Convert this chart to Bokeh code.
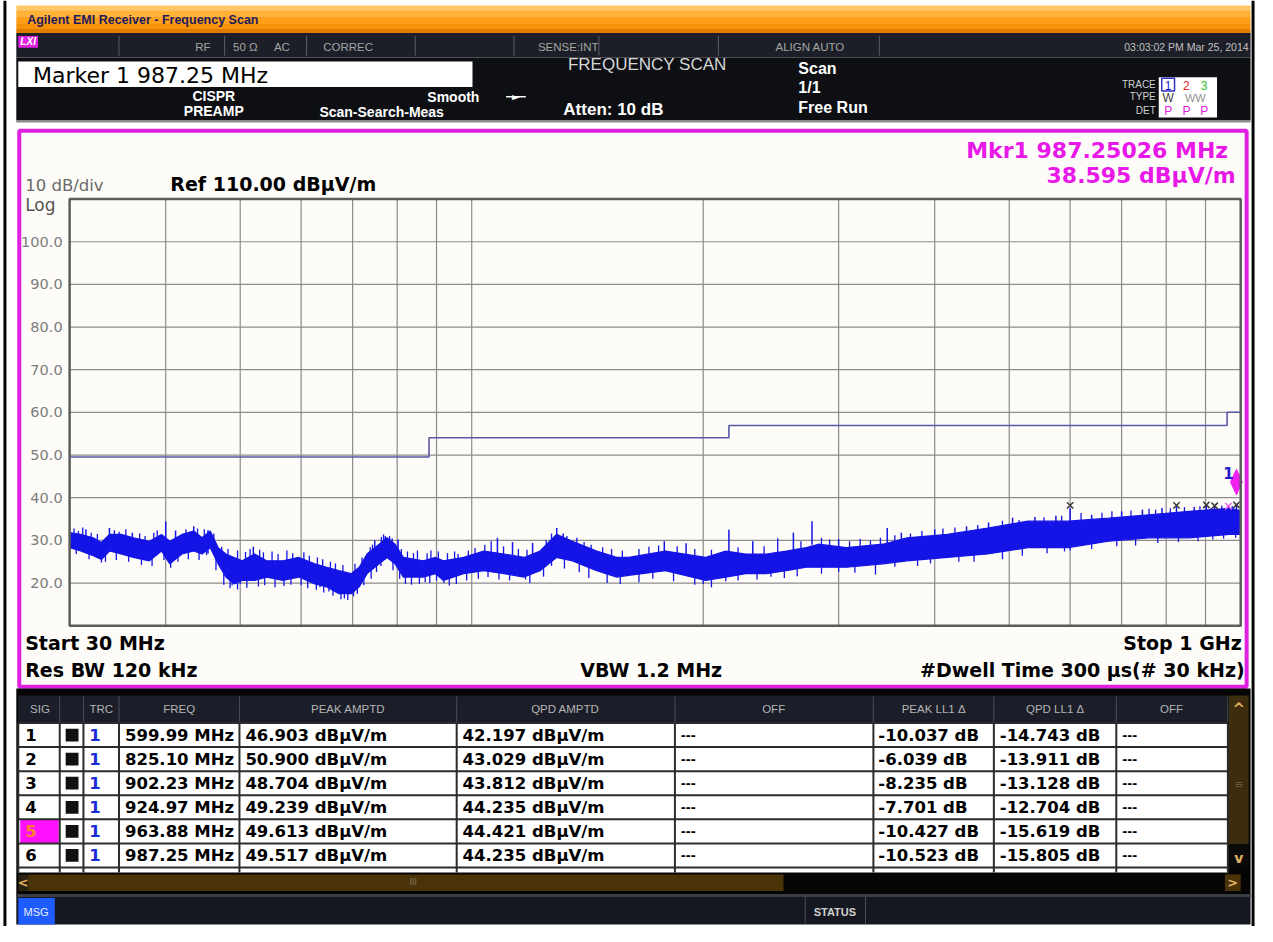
import math
from bokeh.plotting import figure
from bokeh.models import Range1d, LogScale, LinearScale
from bokeh.embed import file_html
from bokeh.resources import INLINE
from bokeh.core.properties import value

# ---------------- data ----------------
trace_freq_mhz = [30, 31, 32.2, 33, 33.8, 35, 36.3, 38.1, 39.5, 40.5, 42, 43.5, 44.6, 45.7, 46.8,
                  47.9, 49.1, 50.3, 52.2, 54.1, 56.8, 59.6, 62.5, 64.8, 67.2, 69.7, 71.4, 73.1, 75.8,
                  77.6, 79.5, 81.5, 86.5, 89.7, 91.9, 97.6, 103.7, 110.2, 117, 122.7, 128.9, 135.2,
                  145.4, 154.4, 160, 178.6, 201.5, 214, 227.2, 241.5, 256.5, 272.4, 282.4, 307.3,
                  342.5, 368.2, 415.4, 468.7, 528.9, 596.8, 673.3, 759.6, 857.1, 967, 1000]
trace_low_dbuv = [28.3, 27.5, 26.4, 25.5, 27.5, 26.8, 26.0, 25.2, 27.5, 24.5, 26.8, 27.5, 26.8, 28.3, 24.5,
                  21.4, 19.8, 20.6, 20.6, 21.4, 20.6, 21.4, 19.8, 19.1, 17.5, 17.5, 19.1, 22.2, 24.5,
                  26.0, 24.5, 21.4, 21.4, 22.2, 20.6, 22.2, 22.9, 22.2, 21.4, 22.9, 26.0, 25.2,
                  22.9, 21.4, 21.8, 22.9, 20.6, 21.4, 22.2, 22.2, 22.9, 23.7, 23.7, 23.7,
                  24.5, 25.2, 26.0, 26.8, 28.3, 28.3, 29.8, 30.6, 30.6, 31.4, 31.4]
trace_high_dbuv = [31.8, 31.4, 30.6, 29.5, 31.4, 31.4, 30.6, 29.8, 31.4, 29.8, 31.4, 32.2, 30.6, 32.2, 28.3,
                   26.8, 26.0, 25.2, 26.8, 25.2, 25.2, 26.0, 24.5, 23.7, 22.9, 22.2, 23.7, 26.8, 29.1,
                   30.6, 29.1, 26.0, 25.2, 26.0, 25.2, 26.0, 27.5, 26.8, 26.0, 27.5, 31.4, 29.8,
                   27.5, 26.0, 26.0, 27.5, 26.0, 27.5, 26.8, 26.8, 27.5, 28.3, 29.1, 28.3,
                   29.1, 30.6, 31.4, 32.9, 34.5, 34.5, 35.2, 36.0, 36.8, 37.5, 37.0]
# distinct narrow spikes on the trace (frequency, top)
spike_freq_mhz = [31.5, 33.8, 36.2, 40.0, 41.2, 43.5, 45.4, 52.0, 74.8, 77.2, 80.2, 108, 113, 120, 129,
                  131.5, 178, 190, 216, 232, 262, 277, 300, 347, 362, 400, 440, 470, 505, 540, 575,
                  600, 640, 700, 745, 790, 825, 870, 902, 925, 963.9, 987.3]
spike_top_dbuv = [32.6, 32.9, 31.8, 34.4, 32.3, 33.3, 32.4, 28.5, 30.0, 31.0, 30.2, 30.6, 29.6, 29.4, 32.9,
                  31.6, 29.8, 29.3, 32.5, 29.8, 31.8, 34.5, 30.3, 32.9, 31.8, 32.6, 33.3, 34.2, 35.3, 35.5,
                  35.8, 37.5, 36.0, 36.8, 37.2, 37.6, 38.0, 37.8, 38.2, 38.0, 38.3, 38.6]
# smaller noise excursions above the trace body
noise_up_freq_mhz = [30.4, 30.8, 31.2, 32.0, 32.6, 34.3, 34.8, 35.5, 37.0, 37.6, 38.6, 39.0, 42.5, 43.0, 44.0,
                     44.9, 46.2, 47.3, 48.2, 49.6, 50.8, 51.5, 53.0, 53.6, 55.0, 56.0, 57.5, 58.5, 60.5,
                     61.5, 63.0, 64.0, 65.5, 66.5, 68.0, 70.5, 72.0, 73.8, 74.3, 76.3, 76.8, 78.2, 78.8,
                     81.0, 82.5, 84.0, 85.0, 87.5, 88.5, 90.5, 93.0, 95.0, 96.0, 99.0, 101, 104, 106, 110,
                     115, 118, 125, 127, 133, 137, 140, 143, 148, 152, 157, 165, 170, 175, 185, 195, 205,
                     222, 240, 250, 268, 285, 292, 310, 320, 330, 340, 355, 372, 385, 410, 425, 455, 490,
                     515, 555, 585, 620, 660, 680, 720, 760, 775, 810, 845, 885, 915, 945, 975]
noise_up_top_dbuv = [32.8, 32.2, 33.0, 31.8, 31.5, 32.4, 32.0, 32.6, 31.6, 31.0, 31.8, 32.3, 32.6, 32.0, 32.8,
                     32.6, 31.6, 28.5, 28.0, 27.6, 27.3, 28.0, 27.8, 27.2, 27.4, 26.8, 27.6, 27.0, 27.2,
                     26.4, 26.0, 25.6, 25.0, 24.6, 24.2, 24.5, 26.0, 28.4, 29.0, 30.8, 31.4, 31.0, 30.5,
                     28.0, 27.4, 27.0, 27.6, 27.0, 27.6, 27.4, 27.0, 27.4, 26.8, 27.6, 28.2, 29.0, 29.8, 28.6,
                     28.0, 27.8, 30.0, 31.6, 31.0, 30.6, 29.6, 29.0, 28.4, 28.0, 27.6, 28.0, 28.5, 28.8, 28.6,
                     28.0, 27.8, 28.4, 28.6, 30.5, 29.8, 30.6, 30.2, 29.8, 30.4, 30.0, 30.6, 31.2, 31.6, 32.2,
                     32.8, 33.0, 33.6, 34.6, 34.8, 35.4, 35.8, 36.4, 36.5, 36.8, 37.0, 37.4, 37.2, 37.5, 37.8,
                     38.0, 37.6, 38.2, 38.0]
# noise excursions below the trace body
dip_freq_mhz = [30.6, 31.8, 33.0, 33.4, 34.5, 35.8, 37.2, 38.4, 39.8, 40.6, 41.5, 42.8, 44.2, 45.2, 46.5,
                47.6, 48.5, 48.8, 49.6, 50.0, 51.0, 52.8, 53.8, 55.5, 57.0, 58.2, 60.0, 61.2, 62.8, 63.5,
                64.2, 65.2, 66.0, 67.6, 68.3, 69.0, 70.2, 71.0, 72.4, 74, 75.2, 76.2, 79.0, 80.6, 82,
                83.5, 85.5, 87, 88.2, 90, 92, 93.5, 95.5, 98.5, 102, 105, 108.5, 112, 117.5, 119, 124,
                127, 132, 138, 142, 150, 156, 165, 172, 183, 195, 200, 205, 214, 222, 235, 245, 255, 265,
                285, 300, 315, 335, 355, 380, 395, 430, 450, 490, 520, 560, 590, 600, 640, 690, 730, 780,
                830, 880, 920, 950, 985]
dip_low_dbuv = [26.8, 25.6, 24.8, 25.0, 25.4, 25.0, 24.2, 24.0, 25.4, 23.6, 25.0, 25.6, 25.4, 26.6, 23.0,
                19.6, 18.8, 19.4, 18.5, 19.8, 18.9, 19.2, 19.5, 19.0, 19.3, 19.6, 19.5, 18.8, 18.4, 19.0,
                17.8, 18.0, 17.0, 16.2, 16.4, 16.0, 16.9, 17.5, 19.5, 21.0, 22.6, 24.0, 23.0, 21.0, 19.8,
                19.6, 19.8, 20.2, 20.0, 20.6, 20.0, 19.4, 19.8, 20.6, 21.0, 21.4, 20.8, 20.6, 20.8, 20.0, 21.5,
                24.0, 23.4, 22.5, 21.2, 20.0, 19.8, 20.2, 21.0, 20.4, 19.6, 19.8, 19.0, 20.4, 20.6, 20.8, 21.5,
                21.2, 21.6, 22.2, 22.6, 22.4, 22.0, 23.8, 24.0, 24.6, 25.0, 25.0, 25.6, 26.4, 27.0, 27.4,
                27.6, 28.0, 28.6, 28.8, 29.4, 29.6, 29.8, 30.2, 30.4, 30.6]

limit_edges_mhz = [30, 88, 216, 960, 1000]
limit_levels_dbuv = [49.54, 54.04, 56.94, 60.04]

freq_grid_mhz = [40, 50, 60, 70, 80, 90, 100, 200, 300, 400, 500, 600, 700, 800, 900]
amp_ticks_dbuv = [20, 30, 40, 50, 60, 70, 80, 90, 100]
amp_ref_dbuv = 110.0
amp_div_db = 10.0
freq_start_mhz = 30.0
freq_stop_mhz = 1000.0

sig_ids = ["1", "2", "3", "4", "5", "6"]
sig_freq_mhz = [599.99, 825.10, 902.23, 924.97, 963.88, 987.25]
sig_peak_dbuv = [46.903, 50.900, 48.704, 49.239, 49.613, 49.517]
sig_qpd_dbuv = [42.197, 43.029, 43.812, 44.235, 44.421, 44.235]
sig_peak_delta_db = [-10.037, -6.039, -8.235, -7.701, -10.427, -10.523]
sig_qpd_delta_db = [-14.743, -13.911, -13.128, -12.704, -15.619, -15.805]
sig_mark_dbuv = [38.2, 38.2, 38.3, 38.1, 38.0, 38.3]
selected_sig = 4

marker_freq_mhz = 987.25026
marker_amp_dbuv = 38.595

# ---------------- layout (reference pixel units, whole screen fitted into the figure) ----------------
SW, SH = 1273, 942          # screen units
W, H = 1257, 926            # figure size in the page
BL, BR, BT, BB = 70, 1256, 202, 636        # spectrum graticule box

p = figure(width=W, height=H, x_range=Range1d(0, SW), y_range=Range1d(SH, 0),
           output_backend="svg", toolbar_location=None, tools="",
           x_axis_location=None, y_axis_location=None, min_border=0,
           background_fill_color="white", border_fill_color="white", outline_line_color=None)
p.xgrid.visible = False
p.ygrid.visible = False

k = math.log(freq_stop_mhz / freq_start_mhz) / (BR - BL)
bottom_db = amp_ref_dbuv - 10 * amp_div_db
dbpp = (amp_ref_dbuv - bottom_db) / (BB - BT)
p.extra_x_ranges = {"f": Range1d(freq_start_mhz * math.exp(-k * BL),
                                 freq_stop_mhz * math.exp(k * (SW - BR)))}
p.extra_x_scales = {"f": LogScale()}
p.extra_y_ranges = {"a": Range1d(bottom_db - (SH - BB) * dbpp, amp_ref_dbuv + BT * dbpp)}
p.extra_y_scales = {"a": LinearScale()}
D = dict(x_range_name="f", y_range_name="a")


def Q(l, r, t, b, fill, line=None, lw=1, **kw):
    p.quad(left=[l], right=[r], top=[t], bottom=[b], fill_color=fill, line_color=line, line_width=lw, **kw)


def T(x, y, s, size, color, bold=False, font="DejaVu Sans", align="left", base="middle", style=None, **kw):
    p.text(x=[x], y=[y], text=[s], text_font=value(font), text_font_size=f"{size}px", text_color=color,
           text_font_style=style or ("bold" if bold else "normal"), text_align=align, text_baseline=base, **kw)


def S(x0, y0, x1, y1, color, lw=1, **kw):
    p.segment(x0=[x0], y0=[y0], x1=[x1], y1=[y1], line_color=color, line_width=lw, **kw)


LIB = "Liberation Sans"

# window border
Q(3, 6, 0, SH, "black")
Q(1267, 1270, 0, SH, "black")

# ---------------- header ----------------
for (t, b, c) in [(5, 10, "#ffc766"), (10, 16, "#ffb138"), (16, 24, "#ffa018"), (24, 29, "#f79108"), (29, 33, "#e07c00")]:
    Q(16, 1266, t, b, c)
T(27, 19.5, "Agilent EMI Receiver  - Frequency Scan", 12.5, "#1b1b5e", bold=True, font=LIB)

Q(16, 1266, 33, 58, "#1c1f27")
Q(16, 1266, 58, 122, "#0d0f13")
Q(16, 1266, 122, 124, "#8c8c8c")
Q(18, 38, 36, 48, "#e020e0")
T(28, 42, "LXI", 10, "white", font=LIB, style="bold italic", align="center")
for sx in [120, 227, 310, 420, 520, 606, 727, 890]:
    S(sx, 36, sx, 56, "#5a5e68", 1)
for (tx, s) in [(205, "RF"), (248, "50 Ω"), (285, "AC"), (352, "CORREC"), (575, "SENSE:INT"), (820, "ALIGN AUTO")]:
    T(tx, 47, s, 11.5, "#a4a4a4", font=LIB, align="center")
T(1264, 47, "03:03:02 PM Mar 25, 2014", 10.5, "#c0c0c0", font=LIB, align="right")

Q(18, 478, 62, 88, "white")
T(33, 76, f"Marker 1 {sig_freq_mhz[-1]:.2f} MHz", 22, "black")
T(216, 97, "CISPR", 14, "white", bold=True, font=LIB, align="center")
T(216, 112, "PREAMP", 14, "white", bold=True, font=LIB, align="center")
T(485, 98, "Smooth", 14, "white", bold=True, font=LIB, align="right")
T(386, 113, "Scan-Search-Meas", 14, "white", bold=True, font=LIB, align="center")
S(512, 98, 532, 98, "white", 1.5)
T(522, 98, "►", 10, "white", align="center")
T(655, 65, "FREQUENCY SCAN", 17, "#d6d6d6", font=LIB, align="center")
T(570, 111, "Atten: 10 dB", 17, "white", bold=True, font=LIB)
T(808, 69, "Scan", 16, "white", bold=True, font=LIB)
T(808, 89, "1/1", 16, "white", bold=True, font=LIB)
T(808, 109, "Free Run", 16, "white", bold=True, font=LIB)
for (ty, s) in [(85, "TRACE"), (98, "TYPE"), (112, "DET")]:
    T(1170, ty, s, 10, "#d0d0d0", font=LIB, align="right")
Q(1173, 1232, 78, 119, "white")
Q(1176, 1189, 79, 92, None, line="#3030c0", lw=1.5, fill_alpha=0)
for (tx, s, c) in [(1182.5, "1", "#2020d0"), (1201, "2", "#e02020"), (1219, "3", "#30c030")]:
    T(tx, 86, s, 12, c, font=LIB, align="center")
T(1182.5, 99, "W", 12, "#404040", font=LIB, align="center")
T(1210, 99, "WW", 11, "#909090", font=LIB, align="center")
for tx in [1182.5, 1201, 1219]:
    T(tx, 112, "P", 12, "#e020e0", font=LIB, align="center")

# ---------------- spectrum area ----------------
Q(19, 1262, 132.5, 698, "#fefcf8", line="#e01fe0", lw=4)

p.segment(x0=freq_grid_mhz, y0=[bottom_db] * len(freq_grid_mhz), x1=freq_grid_mhz,
          y1=[amp_ref_dbuv] * len(freq_grid_mhz), line_color="#8c8c8c", line_width=1.2, **D)
p.segment(x0=[freq_start_mhz] * len(amp_ticks_dbuv), y0=amp_ticks_dbuv,
          x1=[freq_stop_mhz] * len(amp_ticks_dbuv), y1=amp_ticks_dbuv,
          line_color="#8c8c8c", line_width=1.2, **D)
lim_x, lim_y = [], []
for i, lv in enumerate(limit_levels_dbuv):
    lim_x += [limit_edges_mhz[i], limit_edges_mhz[i + 1]]
    lim_y += [lv, lv]
p.line(lim_x, lim_y, line_color="#5a5aa6", line_width=1.6, **D)

BLUE = "#1414e6"
p.varea(x=trace_freq_mhz, y1=trace_low_dbuv, y2=trace_high_dbuv, fill_color=BLUE, **D)
p.line(trace_freq_mhz, trace_high_dbuv, line_color=BLUE, line_width=1.2, **D)
p.line(trace_freq_mhz, trace_low_dbuv, line_color=BLUE, line_width=1.2, **D)
p.segment(x0=noise_up_freq_mhz, y0=[v - 4.0 for v in noise_up_top_dbuv], x1=noise_up_freq_mhz,
          y1=noise_up_top_dbuv, line_color=BLUE, line_width=1.3, **D)
p.segment(x0=dip_freq_mhz, y0=dip_low_dbuv, x1=dip_freq_mhz, y1=[v + 4.0 for v in dip_low_dbuv],
          line_color=BLUE, line_width=1.3, **D)
p.segment(x0=spike_freq_mhz, y0=[v - 5.5 for v in spike_top_dbuv], x1=spike_freq_mhz,
          y1=spike_top_dbuv, line_color=BLUE, line_width=1.5, **D)

mark_colors = ["#3a3a3a"] * len(sig_freq_mhz)
mark_colors[selected_sig] = "#f060f0"
p.scatter(sig_freq_mhz, sig_mark_dbuv, marker="x", size=9, line_width=1.5, line_color=mark_colors, **D)

# marker 1 diamond (drawn above the marked point)
hw = math.exp(k * 6)
base = marker_amp_dbuv + 9 * dbpp
p.patch([marker_freq_mhz, marker_freq_mhz * hw, marker_freq_mhz, marker_freq_mhz / hw],
        [base, base + 13 * dbpp, base + 26 * dbpp, base + 13 * dbpp],
        fill_color="#f020f0", line_color="#f020f0", **D)
p.text(x=[marker_freq_mhz], y=[base + 22 * dbpp], text=["1"], text_font=value("DejaVu Sans"),
       text_font_size="15px", text_font_style="bold", text_color="#2020c8", text_align="center",
       text_baseline="middle", x_offset=-8, **D)

# graticule box
p.quad(left=[freq_start_mhz], right=[freq_stop_mhz], bottom=[bottom_db], top=[amp_ref_dbuv],
       fill_alpha=0, line_color="#5c5c5c", line_width=2.5, **D)

# amplitude tick labels
p.text(x=[freq_start_mhz] * len(amp_ticks_dbuv), y=amp_ticks_dbuv, text=[f"{v:.1f}" for v in amp_ticks_dbuv],
       text_font=value("DejaVu Sans"), text_font_size="14.5px", text_color="#7c7c7c",
       text_align="right", text_baseline="middle", x_offset=-7, **D)

T(25, 188, f"{amp_div_db:.0f} dB/div", 16.5, "#6a6a6a")
T(25, 208, "Log", 17, "#555555")
T(172, 187, f"Ref {amp_ref_dbuv:.2f} dBµV/m", 19, "black", bold=True)
T(1251, 153, f"Mkr1  {marker_freq_mhz:.5f} MHz", 22, "#e818e8", bold=True, align="right")
T(1251, 178, f"{marker_amp_dbuv:.3f} dBµV/m", 22, "#e818e8", bold=True, align="right")
T(25, 654, f"Start {freq_start_mhz:.0f} MHz", 19, "black", bold=True)
T(25, 681, "Res BW 120 kHz", 19, "black", bold=True)
T(659, 681, "VBW 1.2 MHz", 19, "black", bold=True, align="center")
T(1257, 654, f"Stop {freq_stop_mhz / 1000:.0f} GHz", 19, "black", bold=True, align="right")
T(1260, 681, "#Dwell Time 300 µs(# 30 kHz)", 19, "black", bold=True, align="right")

# ---------------- signal table ----------------
Q(16, 1266, 700, 912, "#050505")
cols = [18, 60, 84, 120, 242, 462, 683, 884, 1006, 1130, 1243]
rows = [735, 759.5, 784, 808.5, 833, 857.5, 882]
Q(18, 1243, 707, 735, "#1b1e29")
for cx in cols[1:]:
    S(cx, 708, cx, 734, "#4a4e5c", 1)
for (tx, s) in [(40, "SIG"), (102, "TRC"), (181, "FREQ"), (352, "PEAK AMPTD"), (572, "QPD AMPTD"),
                (783, "OFF"), (945, "PEAK LL1 Δ"), (1068, "QPD LL1 Δ"), (1186, "OFF")]:
    T(tx, 721, s, 11.5, "#b4b4b4", font=LIB, align="center")
Q(18, 1243, 735, 887, "white")
Q(20, 59, rows[selected_sig], rows[selected_sig + 1], "#ff10ff")
for ry in rows:
    S(18, ry, 1243, ry, "#2c2c2c", 2)
for cx in cols:
    S(cx, 735, cx, 887, "#2c2c2c", 2)
for i in range(len(sig_ids)):
    cy = (rows[i] + rows[i + 1]) / 2
    T(25, cy, sig_ids[i], 16.5, "#ff8030" if i == selected_sig else "black", bold=True)
    Q(66, 79, cy - 6.5, cy + 6.5, "#111111")
    T(90, cy, "1", 16.5, "#1a2ad8", bold=True)
    T(126, cy, f"{sig_freq_mhz[i]:.2f} MHz", 16.5, "black", bold=True)
    T(248, cy, f"{sig_peak_dbuv[i]:.3f} dBµV/m", 16.5, "black", bold=True)
    T(468, cy, f"{sig_qpd_dbuv[i]:.3f} dBµV/m", 16.5, "black", bold=True)
    T(689, cy, "---", 12, "black", bold=True)
    T(889, cy, f"{sig_peak_delta_db[i]:.3f} dB", 16.5, "black", bold=True)
    T(1012, cy, f"{sig_qpd_delta_db[i]:.3f} dB", 16.5, "black", bold=True)
    T(1136, cy, "---", 12, "black", bold=True)

# vertical scrollbar
Q(1244, 1264, 707, 858, "#3d2c0e")
Q(1244, 1264, 858, 882, "#0a0a0a")
T(1254, 721, "^", 15, "#e0b060", bold=True, align="center")
T(1254, 872, "v", 14, "#e0b060", bold=True, align="center")
T(1254, 798, "≡", 11, "#6a5a3a", align="center")

# horizontal scrollbar
Q(28, 793, 889, 906, "#4a3308")
Q(18, 28, 889, 906, "#2a2110")
T(23, 897, "<", 13, "#e0b060", bold=True, align="center")
Q(1240, 1256, 889, 906, "#4a3308")
T(1248, 897, ">", 13, "#e0b060", bold=True, align="center")
T(418, 897, "III", 8, "#8a7a5a", align="center")

# message bar
Q(16, 1266, 909, 912, "#3a3d44")
Q(16, 1266, 912, 940, "#151820")
Q(18, 55, 913, 940, "#1f5cff")
T(36, 927, "MSG", 11, "#e8eeff", font=LIB, align="center")
S(815, 912, 815, 940, "#4a4e58", 1)
S(876, 912, 876, 940, "#4a4e58", 1)
T(845, 927, "STATUS", 11, "#d0d0d0", bold=True, font=LIB, align="center")

open("out.html", "w").write(file_html(p, INLINE, title="Agilent EMI Receiver - Frequency Scan"))
